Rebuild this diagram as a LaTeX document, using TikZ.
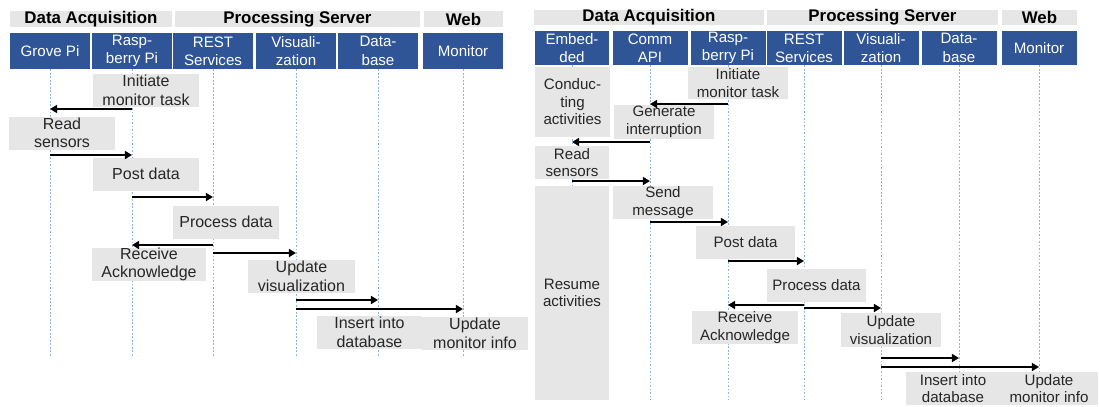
\documentclass[tikz,border=0pt]{standalone}
\usepackage{fontspec}
\setmainfont{Liberation Sans}
\usetikzlibrary{arrows.meta}
\definecolor{laneblue}{RGB}{47,85,151}
\definecolor{boxgray}{RGB}{231,230,230}
\definecolor{lifeblue}{RGB}{140,180,220}
\definecolor{textgray}{RGB}{38,38,38}
\tikzset{
	head/.style={fill=boxgray, inner sep=0pt, font=\bfseries\fontsize{9.6}{11}\selectfont},
	lane/.style={fill=laneblue, text=white, align=center, inner sep=0pt, font=\fontsize{8.6}{10.4}\selectfont},
	act/.style={fill=boxgray, text=textgray, align=center, inner sep=0pt, minimum height=6.6mm, font=\fontsize{8.6}{10}\selectfont},
	actl/.style={act, font=\fontsize{9.1}{10.5}\selectfont},
	life/.style={draw=lifeblue, line width=0.4pt, dash pattern=on 1pt off 1pt},
	msg/.style={line width=1.3pt, -{Triangle[length=4pt,width=4.5pt]}}
}
\begin{document}
\begin{tikzpicture}[x=0.02cm, y=-0.02cm]
			\useasboundingbox (0,0) rectangle (1099,406);
			\node[head, minimum width=32.4mm, minimum height=3.2mm] (lda) at (91,19) {Data Acquisition};
			\node[head, minimum width=49mm, minimum height=3.2mm] (lps) at (297.5,19) {Processing Server};
			\node[head, minimum width=15.8mm, minimum height=3.2mm] (lweb) at (463.5,19) {Web};
			\node[lane, minimum width=16mm, minimum height=7.2mm] (grove) at (50,51) {Grove Pi};
			\node[lane, minimum width=16mm, minimum height=7.2mm] (rpi) at (132,51) {Rasp-\\berry Pi};
			\node[lane, minimum width=16mm, minimum height=7.2mm] (rest) at (213,51) {REST\\Services};
			\node[lane, minimum width=16mm, minimum height=7.2mm] (vis) at (296,51) {Visuali-\\zation};
			\node[lane, minimum width=16mm, minimum height=7.2mm] (db) at (378,51) {Data-\\base};
			\node[lane, minimum width=16mm, minimum height=7.2mm] (mon) at (463,51) {Monitor};
			\foreach \n in {grove,rpi,rest,vis,db,mon}
				\draw[life] (\n.south) -- (\n |- 0,357);
			\node[actl, minimum width=21.2mm] (init) at (146,90.5) {Initiate\\monitor task};
			\node[actl, minimum width=21.2mm] (read) at (62,133) {Read\\sensors};
			\node[actl, minimum width=21.2mm] (post) at (146,174) {Post data};
			\node[actl, minimum width=21.2mm] (proc) at (226,222) {Process data};
			\node[actl, minimum width=22.8mm] (recv) at (149,264.5) {Receive\\Acknowledge};
			\node[actl, minimum width=21.4mm] (updv) at (301.5,276.5) {Update\\visualization};
			\node[actl, minimum width=21mm] (ins) at (369.5,332.5) {Insert into\\database};
			\node[actl, minimum width=21.2mm] (updm) at (475,333.5) {Update\\monitor info};
			\draw[msg] (rpi |- 0,109) -- (grove |- 0,109);
			\draw[msg] (grove |- 0,155) -- (rpi |- 0,155);
			\draw[msg] (rpi |- 0,197) -- (rest |- 0,197);
			\draw[msg] (rest |- 0,245) -- (rpi |- 0,245);
			\draw[msg] (rest |- 0,253) -- (vis |- 0,253);
			\draw[msg] (vis |- 0,300) -- (db |- 0,300);
			\draw[msg] (vis |- 0,309) -- (mon |- 0,309);

			\node[head, minimum width=46mm, minimum height=3mm] (rda) at (649,17.5) {Data Acquisition};
			\node[head, minimum width=46.2mm, minimum height=3mm] (rps) at (882.5,17.5) {Processing Server};
			\node[head, minimum width=15mm, minimum height=3mm] (rweb) at (1039.5,17.5) {Web};
			\node[lane, minimum width=15mm, minimum height=6.8mm] (emb) at (572,48) {Embed-\\ded};
			\node[lane, minimum width=15mm, minimum height=6.8mm] (comm) at (650,48) {Comm\\API};
			\node[lane, minimum width=15mm, minimum height=6.8mm] (rpi2) at (728,48) {Rasp-\\berry Pi};
			\node[lane, minimum width=15mm, minimum height=6.8mm] (rest2) at (804,48) {REST\\Services};
			\node[lane, minimum width=15mm, minimum height=6.8mm] (vis2) at (881,48) {Visuali-\\zation};
			\node[lane, minimum width=15mm, minimum height=6.8mm] (db2) at (959,48) {Data-\\base};
			\node[lane, minimum width=15mm, minimum height=6.8mm] (mon2) at (1039,48) {Monitor};
			\foreach \n in {emb,comm,rpi2,rest2,vis2,db2,mon2}
				\draw[life] (\n.south) -- (\n |- 0,400);
			\node[act, minimum width=15mm, minimum height=14mm] (cond) at (572.5,102) {Conduc-\\ting\\activities};
			\node[act, minimum width=20mm, minimum height=6.4mm] (init2) at (738,83) {Initiate\\monitor task};
			\node[act, minimum width=20mm, minimum height=6.8mm] (gen) at (664,122) {Generate\\interruption};
			\node[act, minimum width=14.8mm] (read2) at (572,162.5) {Read\\sensors};
			\node[act, minimum width=14.8mm, minimum height=42.8mm] (resume) at (572,293) {Resume\\activities};
			\node[act, minimum width=20mm] (send) at (663,202.5) {Send\\message};
			\node[act, minimum width=19.8mm] (post2) at (745.5,242.5) {Post data};
			\node[act, minimum width=19.8mm] (proc2) at (816.5,285.5) {Process data};
			\node[act, minimum width=21.2mm] (recv2) at (745,327.5) {Receive\\Acknowledge};
			\node[act, minimum width=20mm, minimum height=6.8mm] (updv2) at (891,330) {Update\\visualization};
			\node[act, minimum width=18.8mm] (ins2) at (953,388.5) {Insert into\\database};
			\node[act, minimum width=19.6mm] (updm2) at (1049,388.5) {Update\\monitor info};
			\draw[msg] (rpi2 |- 0,104) -- (comm |- 0,104);
			\draw[msg] (comm |- 0,142) -- (emb |- 0,142);
			\draw[msg] (emb |- 0,181) -- (comm |- 0,181);
			\draw[msg] (comm |- 0,222) -- (rpi2 |- 0,222);
			\draw[msg] (rpi2 |- 0,261) -- (rest2 |- 0,261);
			\draw[msg] (rest2 |- 0,305) -- (rpi2 |- 0,305);
			\draw[msg] (rest2 |- 0,308) -- (vis2 |- 0,308);
			\draw[msg] (vis2 |- 0,358) -- (db2 |- 0,358);
			\draw[msg] (vis2 |- 0,367) -- (mon2 |- 0,367);
		\end{tikzpicture}
\end{document}
